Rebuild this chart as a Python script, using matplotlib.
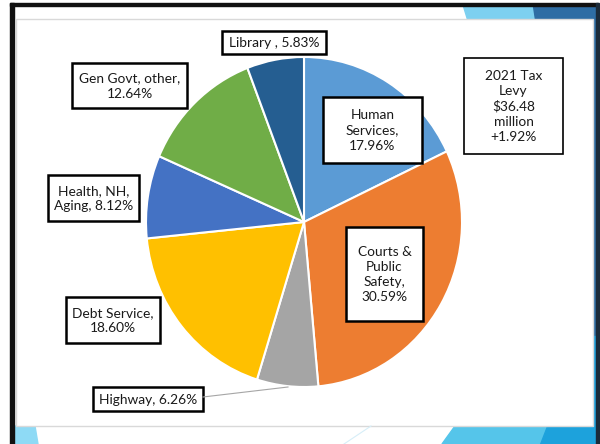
import matplotlib
matplotlib.use("Agg")
import matplotlib.pyplot as plt
from matplotlib.patches import Rectangle, Polygon

# ---- data ----
categories = ["Human Services", "Courts & Public Safety", "Highway", "Debt Service",
              "Health, NH, Aging", "Gen Govt, other", "Library"]
shares = [17.96, 30.59, 6.26, 18.60, 8.12, 12.64, 5.83]
colors = ["#5B9BD5", "#ED7D31", "#A5A5A5", "#FFC000", "#4472C4", "#70AD47", "#255E91"]
label_texts = ["Human\nServices,\n17.96%", "Courts &\nPublic\nSafety,\n30.59%",
               "Highway, 6.26%", "Debt Service,\n18.60%", "Health, NH,\nAging, 8.12%",
               "Gen Govt, other,\n12.64%", "Library , 5.83%"]
note_text = "2021 Tax\nLevy\n$36.48\nmillion\n+1.92%"

W, H = 600, 444
plt.rcParams['font.family'] = ['Lato', 'DejaVu Sans']
fig = plt.figure(figsize=(W / 100, H / 100), dpi=100)

# ---- background (pixel coords, y downward) ----
bg = fig.add_axes([0, 0, 1, 1], zorder=0)
bg.set_xlim(0, W); bg.set_ylim(H, 0); bg.axis("off")
bg.add_patch(Rectangle((0, 0), W, H, color="white"))
# slide decorations
bg.add_patch(Polygon([(463, 6), (535, 6), (535, 19), (467, 19)], color="#7DD0F0"))
bg.add_patch(Polygon([(533, 6), (597, 6), (597, 19), (535, 19)], color="#2E6DA4"))
bg.add_patch(Rectangle((593, 6), 4, 330, color="#2E6DA4"))
bg.add_patch(Rectangle((593, 336), 4, 108, color="#1E9FDA"))
bg.add_patch(Polygon([(14, 426), (35, 426), (38, 444), (14, 444)], color="#8EDAF5"))
bg.add_patch(Polygon([(455, 426), (547, 426), (540, 444), (442, 444)], color="#55C5EA"))
bg.add_patch(Polygon([(547, 426), (597, 426), (597, 444), (540, 444)], color="#1DA2DC"))
bg.plot([344, 371], [444, 426], color="#D6EEF8", lw=0.8)
# frame
bg.add_patch(Rectangle((10, 3), 588, 3, color="#111111"))
bg.add_patch(Rectangle((10, 3), 3.5, 441, color="#111111"))
bg.add_patch(Rectangle((596, 3), 2.5, 441, color="#1b2b3a"))
# chart area
bg.add_patch(Rectangle((16, 19), 577, 407, facecolor="white", edgecolor="#D9D9D9", lw=1))

# ---- pie ----
px0, py0, px1, py1 = 146, 57, 462, 387
pax = fig.add_axes([px0 / W, 1 - py1 / H, (px1 - px0) / W, (py1 - py0) / H], zorder=1)
pax.pie(shares, colors=colors, startangle=90, counterclock=False, radius=1,
        wedgeprops=dict(edgecolor="white", linewidth=1.5))
pax.set_xlim(-1, 1); pax.set_ylim(-1, 1); pax.set_aspect("auto"); pax.axis("off")

# ---- labels overlay ----
ov = fig.add_axes([0, 0, 1, 1], zorder=2)
ov.set_xlim(0, W); ov.set_ylim(H, 0); ov.axis("off"); ov.patch.set_alpha(0)

boxes = [(323, 97, 422, 163), (346, 227, 423, 321), (93, 387, 203, 411),
         (66, 297, 160, 343), (48, 175, 139, 221), (72, 63, 187, 108), (222, 31, 326, 54)]

ov.plot([203, 288], [397, 387], color="#A6A6A6", lw=0.8)

def box(b, txt, lw):
    x0, y0, x1, y1 = b
    ov.add_patch(Rectangle((x0, y0), x1 - x0, y1 - y0, facecolor="white",
                           edgecolor="black", lw=lw))
    ov.text((x0 + x1) / 2, (y0 + y1) / 2 + 0.5, txt, ha="center", va="center",
            fontsize=9.9, linespacing=1.32, color="#1a1a1a")

for b, t in zip(boxes, label_texts):
    box(b, t, 1.8)
box((464, 58, 563, 154), note_text, 1.2)

fig.savefig("out.png", dpi=100)
